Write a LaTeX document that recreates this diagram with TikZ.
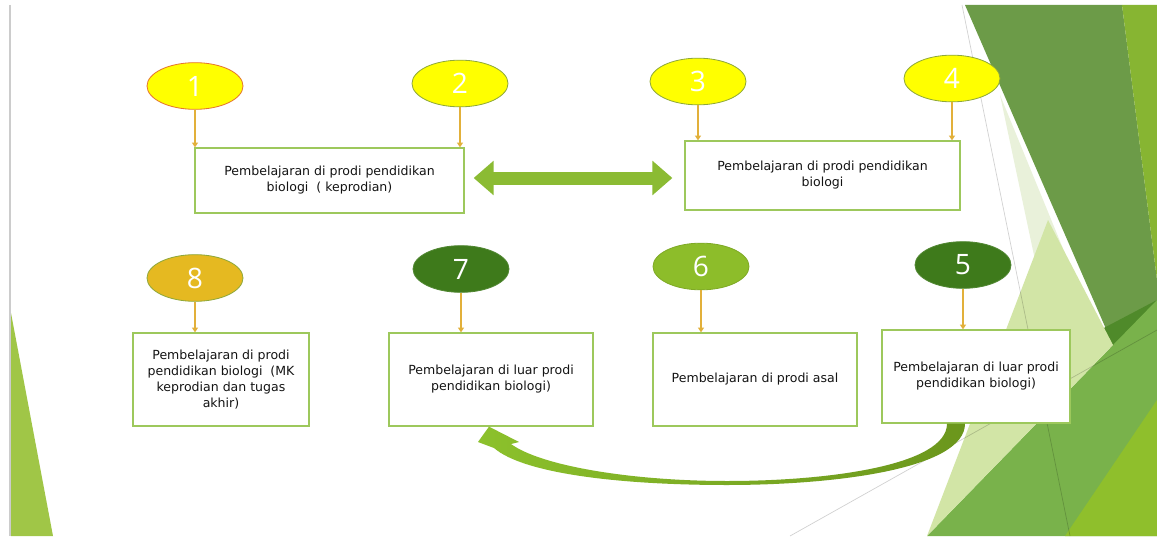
\documentclass[tikz,border=0pt]{standalone}
\usepackage{fontspec}
\setmainfont{DejaVu Sans}
\newfontfamily\numfont{Open Sans}
\usetikzlibrary{shapes.geometric, arrows.meta, positioning}
\definecolor{lemon}{HTML}{FFFF00}
\definecolor{ovalline}{HTML}{8FA83A}
\definecolor{redline}{HTML}{E5762E}
\definecolor{gold}{HTML}{E5B921}
\definecolor{forest}{HTML}{3E7A1B}
\definecolor{leaf}{HTML}{8DBD2A}
\definecolor{boxline}{HTML}{9DC85C}
\definecolor{pinline}{HTML}{E2B03A}
\definecolor{dblgreen}{HTML}{8BBB33}
\definecolor{bendlight}{HTML}{8CC12C}
\definecolor{benddark}{HTML}{6B961C}
\definecolor{facetdark}{HTML}{6C9B48}
\definecolor{facettop}{HTML}{87B532}
\definecolor{facetdeep}{HTML}{4F8A2A}
\definecolor{facetpale}{HTML}{E9F1DA}
\definecolor{facetlight}{HTML}{D2E5A6}
\definecolor{facetmid}{HTML}{79B24B}
\definecolor{facetlime}{HTML}{8FBF2C}
\definecolor{facetleft}{HTML}{A0C647}
\tikzstyle{oval} = [
  ellipse,
  minimum width=2.88cm,
  minimum height=1.4cm,
  inner sep=0,
  line width=0.7pt,
  text=white,
  font=\numfont\fontsize{24}{24}\selectfont
]
\tikzstyle{panel} = [
  rectangle,
  draw=boxline,
  line width=1.1pt,
  fill=white,
  align=center,
  inner sep=0,
  text=black!92,
  font=\fontsize{10.7}{13.6}\selectfont
]
\tikzstyle{drop} = [
  draw=pinline,
  line width=1.6pt,
  -{Triangle[length=4pt,width=5pt]}
]
\tikzstyle{twoway} = [
  draw=dblgreen,
  line width=0.39cm,
  {Triangle[length=0.6cm,width=1cm]}-{Triangle[length=0.6cm,width=1cm]}
]
\begin{document}
\begin{tikzpicture}[x=0.03cm, y=-0.03cm]

    \fill[white] (0,0) rectangle (1157,536);
    \useasboundingbox (0,0) rectangle (1157,536);

    \fill[facetdark] (965,5) -- (1122,5) -- (1157,280) -- (1157,300) -- (1113,345) -- cycle;
    \fill[facettop] (1122,5) -- (1157,5) -- (1157,280) -- cycle;
    \fill[facetdeep] (1100,330) -- (1157,300) -- (1137,395) -- cycle;
    \fill[facetpale] (1000,95) -- (1080,290) -- (1035,260) -- cycle;
    \fill[facetmid] (1113,345) -- (1157,300) -- (1157,536) -- (927,536) -- cycle;
    \fill[facetlight] (1048,220) -- (1113,345) -- (927,536) -- cycle;
    \fill[facetlime] (1157,400) -- (1157,536) -- (1065,536) -- cycle;
    \draw[black, opacity=0.18, line width=0.6pt] (962,5) -- (1070,536);
    \draw[black, opacity=0.18, line width=0.6pt] (790,536) -- (1157,330);
    \draw[black!20, line width=1.5pt] (10,5) -- (10,536);
    \fill[facetleft] (11,313) -- (11,536) -- (53,536) -- cycle;

    \node (e1) [oval, fill=lemon, draw=redline] at (195,86) {1};
    \node (e2) [oval, fill=lemon, draw=ovalline] at (460,83.5) {2};
    \node (e3) [oval, fill=lemon, draw=ovalline] at (698,81.5) {3};
    \node (e4) [oval, fill=lemon, draw=ovalline] at (952,78.5) {4};
    \node (e8) [oval, fill=gold, draw=ovalline] at (195,278) {8};
    \node (e7) [oval, fill=forest, draw=forest!90] at (461,269) {7};
    \node (e6) [oval, fill=leaf, draw=leaf!90!black] at (701,266.5) {6};
    \node (e5) [oval, fill=forest, draw=forest!90] at (963,265) {5};

    \node (bA) [panel, minimum width=8.07cm, minimum height=1.95cm] at (329.5,180.5) {Pembelajaran di prodi pendidikan\\biologi\ \ ( keprodian)};
    \node (bB) [panel, minimum width=8.25cm, minimum height=2.07cm] at (822.5,175.5) {Pembelajaran di prodi pendidikan\\biologi};
    \node (b8) [panel, minimum width=5.28cm, minimum height=2.79cm] at (221,379.5) {Pembelajaran di prodi\\pendidikan biologi\ \ (MK\\keprodian dan tugas\\akhir)};
    \node (b7) [panel, minimum width=6.12cm, minimum height=2.79cm] at (491,379.5) {Pembelajaran di luar prodi\\pendidikan biologi)};
    \node (b6) [panel, minimum width=6.12cm, minimum height=2.79cm] at (755,379.5) {Pembelajaran di prodi asal};
    \node (b5) [panel, minimum width=5.64cm, minimum height=2.79cm] at (976,376.5) {Pembelajaran di luar prodi\\pendidikan biologi)};

    \draw [drop] (e1) -- (e1 |- bA.north);
    \draw [drop] (e2) -- (e2 |- bA.north);
    \draw [drop] (e3) -- (e3 |- bB.north);
    \draw [drop] (e4) -- (e4 |- bB.north);
    \draw [drop] (e8) -- (e8 |- b8.north);
    \draw [drop] (e7) -- (e7 |- b7.north);
    \draw [drop] (e6) -- (e6 |- b6.north);
    \draw [drop] (e5) -- (e5 |- b5.north);

    \draw [twoway] ([xshift=0.27cm,yshift=0.075cm]bA.east) -- ([xshift=-0.36cm,yshift=-0.075cm]bB.west);

    \shade [left color=bendlight, right color=benddark]
        ([xshift=-0.33cm]b5.south) .. controls +(0,46) and +(105,0) .. (727,485)
        .. controls +(-105,0) and +(30,26) .. (494,448)
        -- (478,442) -- ([xshift=-0.06cm]b7.south) -- (519,442) -- (511,444)
        .. controls +(30,22) and +(-95,0) .. (727,481)
        .. controls +(100,0) and +(0,42) .. ([xshift=-0.87cm]b5.south) -- cycle;

\end{tikzpicture}
\end{document}
